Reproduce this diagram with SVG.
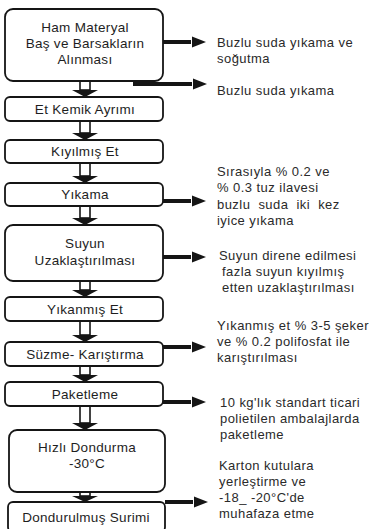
<svg xmlns="http://www.w3.org/2000/svg" width="383" height="529" viewBox="0 0 383 529">
<style>
.box{fill:#fff;stroke:#151515;stroke-width:1.8}
.bt{font-family:"Liberation Sans",Arial,sans-serif;font-size:13.5px;letter-spacing:0.3px;fill:#1e1e1e;text-anchor:middle}
.nt{font-family:"Liberation Sans",Arial,sans-serif;font-size:13px;letter-spacing:0.45px;fill:#2a2a2a}
.sh{fill:#fff;stroke:#151515;stroke-width:1.6}
.hd{fill:#151515}
</style>
<defs>
<g id="rarrow"><rect x="0" y="-2" width="28" height="4" fill="#151515"/><polygon points="29,-5.5 43,0 29,5.5" fill="#151515"/></g>
</defs>
<rect width="383" height="529" fill="#fff"/>
<g id="connectors">
<g id="d1"><rect class="sh" x="80" y="81" width="10" height="9"/><polygon class="hd" points="72,90 98,90 85,97"/></g>
<g id="d2"><rect class="sh" x="80" y="121" width="10" height="12"/><polygon class="hd" points="72,133 98,133 85,140"/></g>
<g id="d3"><rect class="sh" x="80" y="163" width="10" height="13"/><polygon class="hd" points="72,176 98,176 85,183"/></g>
<g id="d4"><rect class="sh" x="80" y="206" width="10" height="12"/><polygon class="hd" points="72,218 98,218 85,225"/></g>
<g id="d5"><rect class="sh" x="80" y="281" width="10" height="9"/><polygon class="hd" points="72,290 98,290 85,297"/></g>
<g id="d6"><rect class="sh" x="80" y="321" width="10" height="14"/><polygon class="hd" points="72,335 98,335 85,342"/></g>
<g id="d7"><rect class="sh" x="80" y="366" width="10" height="9"/><polygon class="hd" points="72,375 98,375 85,382"/></g>
<g id="d8"><rect class="sh" x="80" y="406" width="10" height="17"/><polygon class="hd" points="72,423 98,423 85,430"/></g>
<g id="d9"><rect class="sh" x="80" y="492" width="10" height="4"/><polygon class="hd" points="72,496 98,496 85,502"/></g>
<use href="#rarrow" x="163" y="42"/>
<rect x="133" y="82" width="59" height="4" fill="#151515"/><polygon points="193,78.5 207,84 193,89.5" fill="#151515"/>
<use href="#rarrow" x="163" y="201"/>
<use href="#rarrow" x="163" y="257"/>
<use href="#rarrow" x="163" y="347"/>
<use href="#rarrow" x="163" y="402"/>
<use href="#rarrow" x="165" y="502"/>
</g>
<g id="n1"><rect class="box" x="5" y="9" width="158" height="72" rx="8"/>
<text class="bt" x="85" y="32">Ham Materyal</text><text class="bt" x="85" y="48">Baş ve Barsakların</text><text class="bt" x="85" y="64">Alınması</text></g>
<g id="n2"><rect class="box" x="5" y="97" width="158" height="24" rx="5"/><text class="bt" x="85" y="114">Et Kemik Ayrımı</text></g>
<g id="n3"><rect class="box" x="5" y="140" width="158" height="23" rx="5"/><text class="bt" x="85" y="156">Kıyılmış Et</text></g>
<g id="n4"><rect class="box" x="5" y="183" width="158" height="23" rx="5"/><text class="bt" x="85" y="199">Yıkama</text></g>
<g id="n5"><rect class="box" x="5" y="225" width="158" height="56" rx="8"/><text class="bt" x="85" y="248">Suyun</text><text class="bt" x="85" y="265">Uzaklaştırılması</text></g>
<g id="n6"><rect class="box" x="5" y="297" width="158" height="24" rx="5"/><text class="bt" x="85" y="314">Yıkanmış Et</text></g>
<g id="n7"><rect class="box" x="5" y="342" width="158" height="24" rx="5"/><text class="bt" x="85" y="359">Süzme- Karıştırma</text></g>
<g id="n8"><rect class="box" x="5" y="382" width="158" height="24" rx="5"/><text class="bt" x="85" y="399">Paketleme</text></g>
<g id="n9"><rect class="box" x="9" y="430" width="156" height="62" rx="8"/><text class="bt" x="87" y="452">Hızlı Dondurma</text><text class="bt" x="87" y="468">-30°C</text></g>
<g id="n10"><rect class="box" x="8" y="502" width="157" height="30" rx="5"/><text class="bt" x="86" y="522">Dondurulmuş Surimi</text></g>
<g id="notes">
<text class="nt" x="217" y="47">Buzlu suda yıkama ve</text>
<text class="nt" x="217" y="63">soğutma</text>
<text class="nt" x="217" y="95">Buzlu suda yıkama</text>
<text class="nt" x="217" y="176">Sırasıyla % 0.2 ve</text>
<text class="nt" x="217" y="192">% 0.3 tuz ilavesi</text>
<text class="nt" x="217" y="209" word-spacing="4">buzlu suda iki kez</text>
<text class="nt" x="217" y="225">iyice yıkama</text>
<text class="nt" x="219" y="260">Suyun direne edilmesi</text>
<text class="nt" x="222" y="276">fazla suyun kıyılmış</text>
<text class="nt" x="222" y="292">etten uzaklaştırılması</text>
<text class="nt" x="217" y="330">Yıkanmış et % 3-5 şeker</text>
<text class="nt" x="217" y="346">ve % 0.2 polifosfat ile</text>
<text class="nt" x="217" y="362">karıştırılması</text>
<text class="nt" x="220" y="407">10 kg'lık standart ticari</text>
<text class="nt" x="220" y="423">polietilen ambalajlarda</text>
<text class="nt" x="220" y="439">paketleme</text>
<text class="nt" x="219" y="470">Karton kutulara</text>
<text class="nt" x="219" y="486">yerleştirme ve</text>
<text class="nt" x="219" y="502"> -18_ -20°C'de</text>
<text class="nt" x="219" y="518">muhafaza etme</text>
</g>
</svg>
